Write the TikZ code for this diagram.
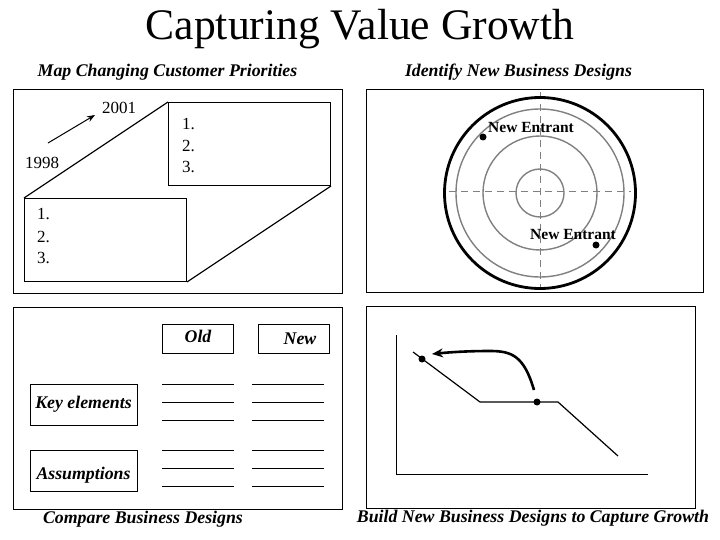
\documentclass[tikz,border=0pt]{standalone}
\usepackage{fontspec}
\setmainfont{Liberation Serif}
\usetikzlibrary{arrows.meta}
\begin{document}
\begin{tikzpicture}[x=1pt,y=-1pt,
  panel/.style={draw,line width=1pt},
  rbox/.style={draw,line width=1pt,inner sep=0pt,anchor=north west},
  captxt/.style={font=\fontsize{17.8}{20}\selectfont\bfseries\itshape,inner sep=0pt,anchor=base},
  lbl/.style={font=\fontsize{17}{20}\selectfont,inner sep=0pt,anchor=base west},
  ent/.style={font=\fontsize{15.5}{18}\selectfont\bfseries,inner sep=0pt,anchor=base west},
  ring/.style={draw=black!50,line width=1.4pt},
  axisln/.style={draw=black!50,line width=1pt,dash pattern=on 7pt off 5pt},
  dot/.style={circle,fill=black,inner sep=0pt,minimum size=7pt},
  rule/.style={line width=1pt}]
\useasboundingbox (0,0) rectangle (720,540);
% title
\node[inner sep=0pt,anchor=base,font=\fontsize{43.6}{50}\selectfont] (title) at (360,40)
  {Capturing Value Growth};
% ---------- panel 1
\node[captxt] (c1) at (167.5,77) {Map Changing Customer Priorities};
\draw[panel] (13,90) rectangle (342,293);
\node[rbox,minimum width=162pt,minimum height=83pt] (back) at (168,102) {};
\node[rbox,minimum width=162pt,minimum height=83pt] (front) at (24,198) {};
\draw[line width=1.2pt] (front.north west) -- (back.north west);
\draw[line width=1.2pt] (front.south east) -- (back.south east);
\node[lbl] (b1) at (182,130) {1.};
\node[lbl] (b2) at (182,152) {2.};
\node[lbl] (b3) at (182,173) {3.};
\node[lbl] (f1) at (37,220) {1.};
\node[lbl] (f2) at (37,242) {2.};
\node[lbl] (f3) at (37,263) {3.};
\node[lbl] (y98) at (25,169) {1998};
\node[lbl] (y01) at (102,114) {2001};
\coordinate (a0) at (48,143);
\coordinate (a1) at (95,115);
\draw[line width=1pt,-{Stealth[length=8pt,width=6pt]}] (a0) -- (a1);
% ---------- panel 2
\node[captxt] (c2) at (518.5,77) {Identify New Business Designs};
\draw[panel] (366,90) rectangle (703,292);
\coordinate (ctr) at (540,193);
\draw[ring] (ctr) circle[radius=84];
\draw[ring] (ctr) circle[radius=57];
\draw[ring] (ctr) circle[radius=24];
\draw[axisln] (449,192) -- (631,192);
\draw[axisln] (540,92) -- (540,290);
\draw[line width=2.8pt] (ctr) circle[radius=95.5];
\node[dot] (d1) at (483,137) {};
\node[dot] (d2) at (596,245) {};
\node[ent] (e1) at (488,133) {New Entrant};
\node[ent] (e2) at (530,240) {New Entrant};
% ---------- panel 3
\draw[panel] (13,307) rectangle (342,509);
\node[rbox,minimum width=71pt,minimum height=29pt] (old) at (162,324) {};
\node[rbox,minimum width=71pt,minimum height=29pt] (new) at (258,324) {};
\node[captxt] (oldt) at (198,342) {Old};
\node[captxt] (newt) at (300,344) {New};
\node[rbox,minimum width=107pt,minimum height=41pt] (key) at (30,384) {};
\node[rbox,minimum width=107pt,minimum height=41pt] (ass) at (30,450) {};
\node[captxt] (keyt) at (83.5,408) {Key elements};
\node[captxt] (asst) at (83.5,479) {Assumptions};
\foreach \yy in {384,402,420,450,468,486} {
  \draw[rule] (162,\yy) -- (234,\yy);
  \draw[rule] (252,\yy) -- (324,\yy);
}
\node[captxt] (c3) at (143,523) {Compare Business Designs};
% ---------- panel 4
\draw[panel] (366,306) rectangle (695,508);
\coordinate (ax0) at (396,335);
\coordinate (axo) at (396,474);
\coordinate (ax1) at (648,474);
\draw[line width=1pt] (ax0) -- (axo) -- (ax1);
\coordinate (p0) at (413,352);
\coordinate (p1) at (480,402);
\coordinate (p2) at (558,402);
\coordinate (p3) at (618,456);
\draw[line width=1.2pt] (p0) -- (p1) -- (p2) -- (p3);
\node[dot] (g1) at (422,359) {};
\node[dot] (g2) at (537,402) {};
\coordinate (s0) at (534,390);
\coordinate (s1) at (490,351);
\coordinate (s2) at (432,354);
\draw[line width=2.6pt,-{Stealth[length=11pt,width=9pt]}]
  (s0) .. controls (524,356) and (512,351) .. (s1)
       .. controls (470,351) and (452,352) .. (s2);
\node[captxt] (c4) at (533,522) {Build New Business Designs to Capture Growth};
\end{tikzpicture}
\end{document}
